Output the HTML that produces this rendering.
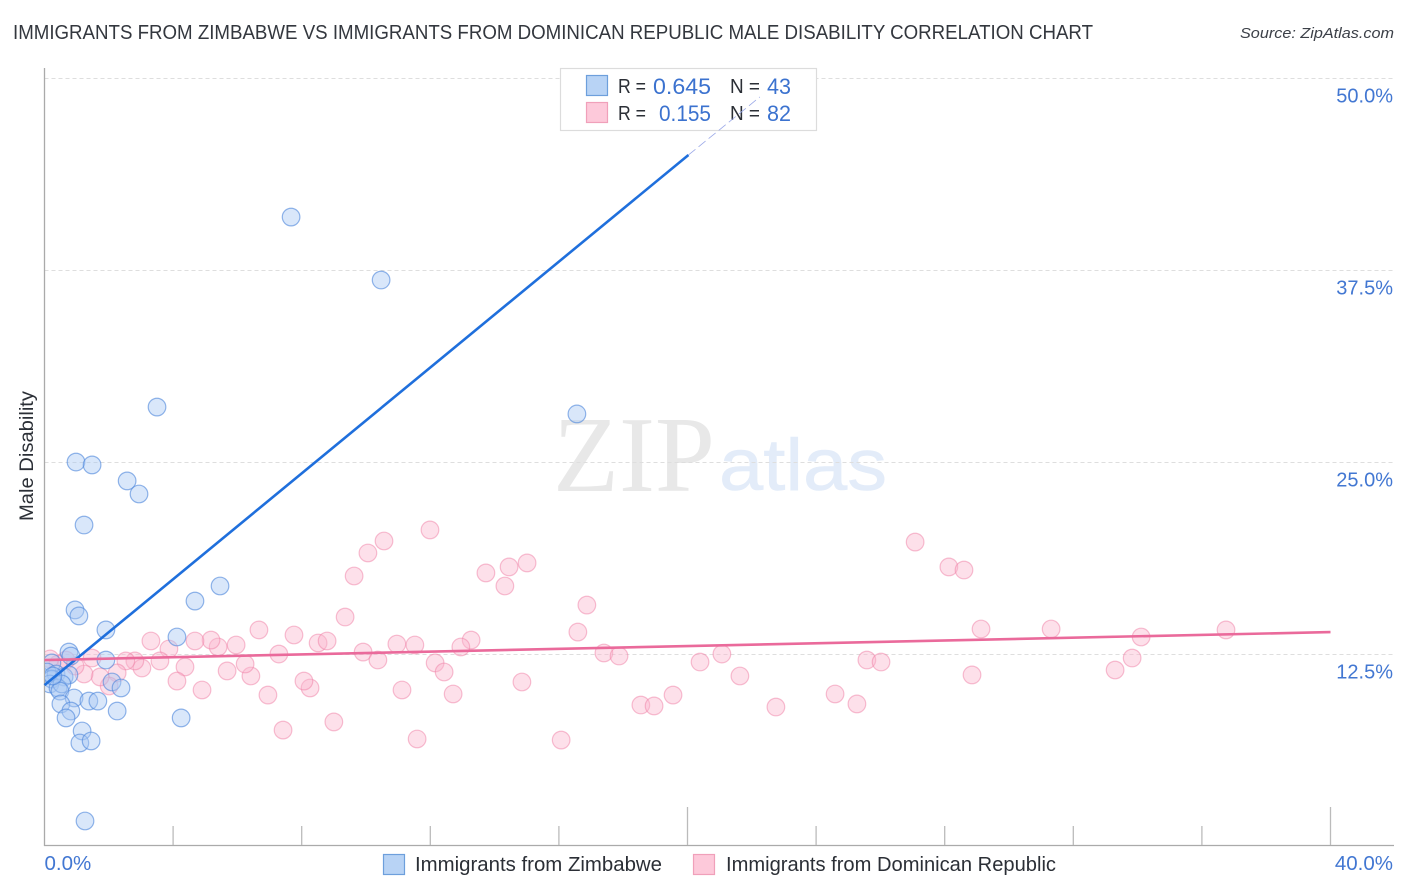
<!DOCTYPE html>
<html lang="en">
<head>
<meta charset="utf-8">
<title>Male Disability Correlation Chart</title>
<style>
html,body{margin:0;padding:0;background:#fff;width:1406px;height:892px;overflow:hidden}
svg{display:block;font-family:"Liberation Sans",sans-serif}
</style>
</head>
<body>
<svg id="chart" width="1406" height="892" viewBox="0 0 1406 892" xmlns="http://www.w3.org/2000/svg">
  <defs>
    <clipPath id="plot-clip"><rect x="45" y="60" width="1349" height="785"/></clipPath>
  </defs>
  <text x="13" y="39" font-size="20" fill="#33373e" textLength="1080" lengthAdjust="spacingAndGlyphs">IMMIGRANTS FROM ZIMBABWE VS IMMIGRANTS FROM DOMINICAN REPUBLIC MALE DISABILITY CORRELATION CHART</text>
  <text x="1394" y="38" font-size="15" font-style="italic" fill="#3c4048" text-anchor="end" textLength="154" lengthAdjust="spacingAndGlyphs">Source: ZipAtlas.com</text>
  <g>
    <text x="553" y="491" font-family="'Liberation Serif',serif" font-size="108" fill="#e8e8e8" textLength="162" lengthAdjust="spacingAndGlyphs">ZIP</text>
    <text x="719" y="490" font-size="73" fill="#e3ecf9" stroke="#e3ecf9" stroke-width="0.6" textLength="168" lengthAdjust="spacingAndGlyphs">atlas</text>
  </g>
  <g id="grid"></g>
  <g id="axes"></g>
  <g id="pink-points" clip-path="url(#plot-clip)"></g>
  <g id="blue-points" clip-path="url(#plot-clip)"></g>
  <g>
    <rect x="560.5" y="68.5" width="256" height="62" fill="#fff" stroke="#dcdcdc" stroke-width="1.2"/>
    <rect x="586.5" y="75.5" width="21" height="20" fill="#b8d3f5" stroke="#6d9fdc" stroke-width="1.2"/>
    <rect x="586.5" y="102.5" width="21" height="20" fill="#fdc9da" stroke="#f0a0ba" stroke-width="1.2"/>
    <text x="618" y="93" font-size="20" fill="#2b2f36" textLength="28" lengthAdjust="spacingAndGlyphs">R =</text>
    <text x="711" y="94" font-size="22" fill="#3b72cf" text-anchor="end" textLength="58" lengthAdjust="spacingAndGlyphs">0.645</text>
    <text x="730" y="93" font-size="20" fill="#2b2f36" textLength="30" lengthAdjust="spacingAndGlyphs">N =</text>
    <text x="791" y="94" font-size="22" fill="#3b72cf" text-anchor="end" textLength="24" lengthAdjust="spacingAndGlyphs">43</text>
    <text x="618" y="120" font-size="20" fill="#2b2f36" textLength="28" lengthAdjust="spacingAndGlyphs">R =</text>
    <text x="711" y="121" font-size="22" fill="#3b72cf" text-anchor="end" textLength="52" lengthAdjust="spacingAndGlyphs">0.155</text>
    <text x="730" y="120" font-size="20" fill="#2b2f36" textLength="30" lengthAdjust="spacingAndGlyphs">N =</text>
    <text x="791" y="121" font-size="22" fill="#3b72cf" text-anchor="end" textLength="24" lengthAdjust="spacingAndGlyphs">82</text>
  </g>
  <g id="trends"></g>
  <g>
    <rect x="383.5" y="854.5" width="21" height="20" fill="#b8d3f5" stroke="#6d9fdc" stroke-width="1.2"/>
    <text x="415" y="871" font-size="20" fill="#2b2f36" textLength="247" lengthAdjust="spacingAndGlyphs">Immigrants from Zimbabwe</text>
    <rect x="693.5" y="854.5" width="21" height="20" fill="#fdc9da" stroke="#f0a0ba" stroke-width="1.2"/>
    <text x="726" y="871" font-size="20" fill="#2b2f36" textLength="330" lengthAdjust="spacingAndGlyphs">Immigrants from Dominican Republic</text>
  </g>
  <text transform="translate(33,456) rotate(-90)" font-size="19" fill="#2b2f36" text-anchor="middle" textLength="130" lengthAdjust="spacingAndGlyphs">Male Disability</text>
</svg>
<script>
const yTickValues = [12.5, 25, 37.5, 50];
const yTickLabels = ["12.5%", "25.0%", "37.5%", "50.0%"];
const xTickValues = [0, 4, 8, 12, 16, 20, 24, 28, 32, 36, 40];
const xEndLabels = ["0.0%", "40.0%"];

const zimbabweX = [7.67,10.47,3.50,16.56,0.98,1.48,2.57,2.94,1.23,5.46,4.68,0.95,1.07,1.91,4.12,0.76,0.82,1.91,0.23,0.08,0.36,0.61,0.76,0.23,0.17,0.42,0.54,2.10,2.38,0.48,0.92,1.38,1.66,0.51,0.82,2.26,0.67,4.25,1.17,1.10,1.45,1.26,0.26];
const zimbabweY = [40.98,36.88,28.61,28.16,25.03,24.84,23.80,22.95,20.93,16.96,15.98,15.40,15.01,14.10,13.64,12.66,12.40,12.14,11.95,11.36,11.23,11.04,11.17,10.90,10.58,10.32,10.58,10.71,10.32,10.12,9.67,9.47,9.47,9.28,8.82,8.82,8.37,8.37,7.52,6.74,6.87,1.66,11.10];

const dominicanX = [11.99,10.56,10.06,9.63,27.08,28.13,28.60,13.73,14.45,15.01,14.32,16.87,9.35,6.67,7.76,8.51,8.79,9.91,10.96,11.52,13.27,12.95,16.59,17.40,17.87,21.07,20.39,29.13,31.31,36.75,34.11,33.83,33.30,28.85,25.58,26.02,21.63,14.85,12.15,12.43,10.37,11.12,12.71,19.55,18.55,18.96,22.75,24.59,25.27,16.07,11.59,9.00,7.42,8.26,8.07,6.95,7.29,6.42,6.24,5.96,5.68,5.40,5.18,4.68,4.90,4.37,4.12,3.87,3.59,3.31,3.03,2.81,2.53,2.26,2.01,1.73,1.48,1.23,0.95,0.67,0.42,0.17];
const dominicanY = [20.61,19.89,19.11,17.61,19.82,18.20,18.00,17.81,18.20,18.46,16.96,15.72,14.94,14.10,13.77,13.25,13.38,12.66,13.18,13.12,13.44,12.99,13.96,12.60,12.40,12.53,12.01,14.16,14.16,14.10,13.64,12.27,11.49,11.17,12.14,12.01,11.10,10.71,11.95,11.36,12.14,10.19,9.93,9.86,9.21,9.15,9.08,9.93,9.28,6.93,7.00,8.11,7.58,10.32,10.77,9.86,12.53,11.10,11.88,13.12,11.43,12.99,13.44,13.38,10.19,11.69,10.77,12.86,12.08,13.38,11.62,12.08,12.08,11.30,10.45,11.04,12.27,11.23,11.75,12.14,11.88,12.21];

const zimbabweTrendX = [0, 20.03];
const zimbabweTrendY = [10.51, 45.02];
const zimbabweTrendExtX = [20.03, 22.25];
const zimbabweTrendExtY = [45.02, 48.80];
const dominicanTrendX = [0, 40];
const dominicanTrendY = [12.14, 13.96];

const NS = "http://www.w3.org/2000/svg";
function xScale(v) { return 44.5 + v * 32.15; }
function yScale(v) { return 654.5 - (v - 12.5) * 15.36; }
function make(tag, parent, attrs) {
  const el = document.createElementNS(NS, tag);
  for (const k in attrs) el.setAttribute(k, attrs[k]);
  parent.appendChild(el);
  return el;
}

const grid = document.getElementById("grid");
const axes = document.getElementById("axes");
yTickValues.forEach(function (v, i) {
  const line = make("line", grid, {x1: 44.5, x2: 1394, y1: yScale(v), y2: yScale(v), stroke: "#dedede", "stroke-width": 1, "stroke-dasharray": "4 3"});
  
  
  const label = make("text", axes, {x: 1393, y: yScale(v) + 24, "font-size": 20, fill: "#4277d2", "text-anchor": "end"});
  
  
  label.textContent = yTickLabels[i];
});

const leftAxis = make("line", axes, {x1: 44.5, x2: 44.5, y1: 68, y2: 846, stroke: "#aaaaaa", "stroke-width": 1.3});


const bottomAxis = make("line", axes, {x1: 44, x2: 1394, y1: 845.5, y2: 845.5, stroke: "#aaaaaa", "stroke-width": 1.3});



xTickValues.forEach(function (v) {
  if (v === 0) return;
  const tall = (v === 20 || v === 40);
  const tick = make("line", axes, {x1: xScale(v), x2: xScale(v), y1: tall ? 807 : 826, y2: 845, stroke: "#bbbbbb", "stroke-width": 1.3});
  
  
});

const xLabelLeft = make("text", axes, {x: xScale(0), y: 870, "font-size": 20.5, fill: "#4277d2"});


xLabelLeft.textContent = xEndLabels[0];
const xLabelRight = make("text", axes, {x: 1393, y: 870, "font-size": 20.5, fill: "#4277d2", "text-anchor": "end"});


xLabelRight.textContent = xEndLabels[1];

const pinkGroup = document.getElementById("pink-points");
dominicanX.forEach(function (v, i) {
  const c = make("circle", pinkGroup, {cx: xScale(v), cy: yScale(dominicanY[i]), r: 8.8, fill: "#fbb6cc", "fill-opacity": 0.42, stroke: "#f07fa6", "stroke-opacity": 0.5, "stroke-width": 1.2});
  
  
});
const blueGroup = document.getElementById("blue-points");
zimbabweX.forEach(function (v, i) {
  const c = make("circle", blueGroup, {cx: xScale(v), cy: yScale(zimbabweY[i]), r: 8.8, fill: "#a9c8f4", "fill-opacity": 0.44, stroke: "#4f88dc", "stroke-opacity": 0.62, "stroke-width": 1.2});
  
  
});

const trends = document.getElementById("trends");
const blueTrend = make("line", trends, {x1: xScale(zimbabweTrendX[0]), y1: yScale(zimbabweTrendY[0]), x2: xScale(zimbabweTrendX[1]), y2: yScale(zimbabweTrendY[1]), stroke: "#1f6fdc", "stroke-width": 2.6});


const blueExt = make("line", trends, {x1: xScale(zimbabweTrendExtX[0]), y1: yScale(zimbabweTrendExtY[0]), x2: xScale(zimbabweTrendExtX[1]), y2: yScale(zimbabweTrendExtY[1]), stroke: "#9aa8e8", "stroke-width": 0.8, "stroke-dasharray": "9 4"});


const pinkTrend = make("line", trends, {x1: xScale(dominicanTrendX[0]), y1: yScale(dominicanTrendY[0]), x2: xScale(dominicanTrendX[1]), y2: yScale(dominicanTrendY[1]), stroke: "#ea6a9b", "stroke-width": 2.6});


</script>
</body>
</html>
